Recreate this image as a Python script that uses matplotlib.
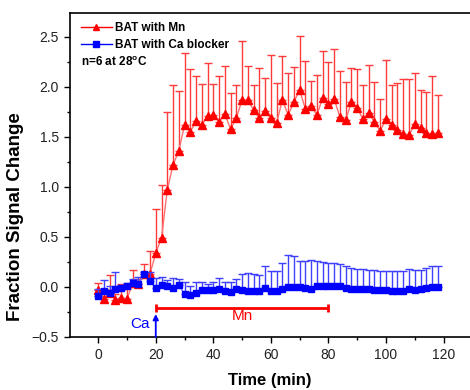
import numpy as np
import matplotlib
matplotlib.use("Agg")
import matplotlib.pyplot as plt
from matplotlib.lines import Line2D
from matplotlib.ticker import MultipleLocator

plt.rcParams['font.family'] = ['Liberation Sans', 'DejaVu Sans']
plt.rcParams['mathtext.fontset'] = 'custom'
plt.rcParams['mathtext.rm'] = 'Liberation Sans'
plt.rcParams['mathtext.bf'] = 'Liberation Sans:bold'

# time points, every 2 min
time_min = np.arange(0, 120, 2)

mn_mean = [-0.03, -0.12, -0.06, -0.13, -0.11, -0.12, 0.04, 0.03, 0.13, 0.13,
           0.34, 0.49, 0.97, 1.22, 1.36, 1.62, 1.55, 1.66, 1.62, 1.71,
           1.72, 1.65, 1.73, 1.58, 1.69, 1.87, 1.87, 1.77, 1.69, 1.76,
           1.69, 1.64, 1.87, 1.72, 1.85, 1.97, 1.78, 1.81, 1.72, 1.89,
           1.83, 1.88, 1.70, 1.67, 1.85, 1.79, 1.68, 1.74, 1.65, 1.56,
           1.68, 1.62, 1.57, 1.53, 1.52, 1.63, 1.59, 1.54, 1.53, 1.54]
mn_err = [0.07, 0.10, 0.18, 0.06, 0.14, 0.10, 0.13, 0.05, 0.10, 0.23,
          0.44, 0.53, 0.78, 0.80, 0.60, 0.72, 0.63, 0.45, 0.41, 0.53,
          0.31, 0.46, 0.48, 0.36, 0.33, 0.59, 0.34, 0.25, 0.50, 0.33,
          0.63, 0.40, 0.44, 0.42, 0.35, 0.54, 0.48, 0.25, 0.40, 0.47,
          0.42, 0.50, 0.46, 0.38, 0.34, 0.39, 0.34, 0.48, 0.40, 0.32,
          0.59, 0.40, 0.47, 0.55, 0.56, 0.51, 0.38, 0.41, 0.58, 0.38]

ca_mean = [-0.09, -0.04, -0.06, -0.02, -0.01, 0.01, 0.04, 0.03, 0.13, 0.06,
           -0.01, 0.02, 0.01, -0.01, 0.02, -0.07, -0.08, -0.06, -0.03, -0.03,
           -0.03, -0.02, -0.04, -0.05, -0.02, -0.03, -0.04, -0.04, -0.04, -0.01,
           -0.04, -0.04, -0.02, 0.00, 0.00, 0.00, -0.01, -0.02, 0.01, 0.01,
           0.01, 0.01, 0.01, -0.01, -0.02, -0.02, -0.02, -0.02, -0.03, -0.03,
           -0.03, -0.04, -0.04, -0.04, -0.02, -0.03, -0.02, -0.01, 0.00, 0.00]
ca_err = [0.07, 0.11, 0.07, 0.17, 0.03, 0.03, 0.04, 0.07, 0.02, 0.09,
          0.10, 0.08, 0.06, 0.10, 0.06, 0.12, 0.09, 0.11, 0.08, 0.06,
          0.08, 0.11, 0.09, 0.10, 0.10, 0.16, 0.18, 0.17, 0.16, 0.22,
          0.20, 0.20, 0.26, 0.32, 0.31, 0.26, 0.27, 0.29, 0.25, 0.24,
          0.23, 0.23, 0.22, 0.22, 0.21, 0.20, 0.20, 0.19, 0.20, 0.19,
          0.19, 0.20, 0.20, 0.20, 0.20, 0.20, 0.19, 0.20, 0.21, 0.21]

mn_window = [20, 80]
ca_time = 20

fig = plt.figure(figsize=(4.7, 3.9), dpi=100)
ax = fig.add_axes([70/470, 53/390, 400/470, 324/390])

zeros = np.zeros(len(time_min))
ax.errorbar(time_min, mn_mean, yerr=[zeros, mn_err], fmt='none',
            ecolor='#ff3b3b', elinewidth=1.0, capsize=3, capthick=1.0, zorder=2)
ax.plot(time_min, mn_mean, color='#ff7070', lw=1.0, marker='^', ms=6,
        mfc='#ff0000', mec='#ff0000', zorder=3)
ax.errorbar(time_min, ca_mean, yerr=[zeros, ca_err], fmt='none',
            ecolor='#4040ff', elinewidth=1.0, capsize=3, capthick=1.0, zorder=4)
ax.plot(time_min, ca_mean, color='#7070ff', lw=1.0, marker='s', ms=4.5,
        mfc='#0000ff', mec='#0000ff', zorder=5)

# Mn application bar
ax.errorbar([np.mean(mn_window)], [-0.21], xerr=[[30], [30]], fmt='none',
            ecolor='#ff0000', elinewidth=2.0, capsize=3, capthick=2.0)
ax.text(np.mean(mn_window), -0.285, 'Mn', color='#ff0000', fontsize=11,
        ha='center', va='center')

# Ca arrow
ax.annotate('', xy=(ca_time, -0.27), xytext=(ca_time, -0.5),
            arrowprops=dict(arrowstyle='-|>', color='#0000ff', lw=1.3,
                            mutation_scale=8, shrinkA=0, shrinkB=0))
ax.text(ca_time - 2, -0.37, 'Ca', color='#0000ff', fontsize=11,
        ha='right', va='center')

ax.set_xlim(-9.8, 129.2)
ax.set_ylim(-0.5, 2.74)
ax.xaxis.set_major_locator(MultipleLocator(20))
ax.xaxis.set_minor_locator(MultipleLocator(10))
ax.yaxis.set_major_locator(MultipleLocator(0.5))
ax.yaxis.set_minor_locator(MultipleLocator(0.25))
ax.tick_params(which='major', length=4.5, width=1.0, labelsize=10,
               labelcolor='#222222', top=False, right=False)
ax.tick_params(which='minor', length=2.5, width=1.0, top=False, right=False)
ax.spines['right'].set_visible(False)
for s in ['left', 'bottom', 'top']:
    ax.spines[s].set_linewidth(1.2)

ax.set_xlabel('Time (min)', fontsize=12, fontweight='bold', labelpad=8)
ax.set_ylabel('Fraction Signal Change', fontsize=13.5, fontweight='bold')
ax.yaxis.set_label_coords(-0.115, 0.37)

handles = [Line2D([], [], color='#ff0000', lw=1.0, marker='^', ms=5),
           Line2D([], [], color='#0000ff', lw=1.0, marker='s', ms=4)]
leg = ax.legend(handles, ['BAT with Mn', 'BAT with Ca blocker'],
                loc='upper left', bbox_to_anchor=(0.01, 0.995), frameon=False,
                prop={'weight': 'bold', 'size': 8.5}, handlelength=2.6,
                handletextpad=0.25, labelspacing=0.45, borderaxespad=0.2)
ax.text(0.028, 0.85, r'n=6 at 28$^{\mathbf{o}}$C', transform=ax.transAxes,
        fontsize=8.5, fontweight='bold', va='center', ha='left')

fig.savefig('out.png', dpi=100)
